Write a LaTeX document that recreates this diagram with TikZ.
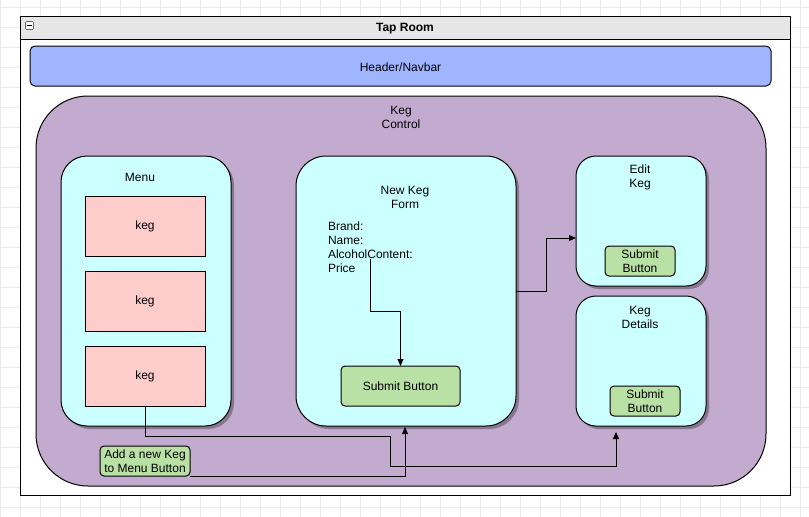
\documentclass[tikz,border=0pt]{standalone}
\usepackage{fontspec}
\setmainfont{Liberation Sans}
\usetikzlibrary{arrows.meta}
\definecolor{hdrblue}{HTML}{A0B5FF}
\definecolor{kegpurple}{HTML}{C3AACF}
\definecolor{lcyan}{HTML}{CCFFFF}
\definecolor{lpink}{HTML}{FFCCCC}
\definecolor{lgreen}{HTML}{B9E0A5}
\definecolor{lanegray}{HTML}{E6E6E6}
\definecolor{gridc}{HTML}{EBEBEB}
\tikzset{
  every node/.style={font=\fontsize{12}{14}\selectfont, inner sep=0pt, outer sep=0pt},
  boxbase/.style={draw=black, line width=1pt, anchor=north west},
  panel/.style={boxbase, fill=lcyan},
  kegbox/.style={boxbase, fill=lpink, minimum width=120pt, minimum height=60pt},
  btn/.style={boxbase, fill=lgreen, rounded corners=4pt, align=center},
  shadowbox/.style={fill=black, opacity=0.3},
  conn/.style={draw=black, line width=1pt},
  arr/.style={conn, -{Triangle[length=7pt,width=6pt]}},
  lbl/.style={align=center}
}
\begin{document}
\begin{tikzpicture}[x=1pt,y=-1pt]
\useasboundingbox (0,0) rectangle (809,517);
\fill[white] (0,0) rectangle (809,517);
% grid
\foreach \gx in {0,20,...,800} \draw[gridc, line width=0.8pt] (\gx,0) -- (\gx,517);
\foreach \gy in {7,27,...,517} \draw[gridc, line width=0.8pt] (0,\gy) -- (809,\gy);

% outer swimlane
\node[boxbase, fill=white, minimum width=770pt, minimum height=479pt] (lane) at (20,16) {};
\node[boxbase, fill=lanegray, minimum width=770pt, minimum height=23pt] (lanehead) at (20,16) {};
\node[font=\bfseries\fontsize{12}{14}\selectfont] (title) at (405,29) {Tap Room};
\node[draw=gray!80!black, fill=white, rounded corners=1pt, line width=0.6pt, minimum width=8pt, minimum height=8pt] (minus) at (29.5,25.5) {};
\draw[line width=1pt] (27,25.5) -- (32,25.5);

% header/navbar
\node[boxbase, fill=hdrblue, rounded corners=5pt, minimum width=741pt, minimum height=40pt] (navbar) at (30,46) {};
\node (navtext) at (400.5,67) {Header/Navbar};

% keg control
\node[boxbase, fill=kegpurple, rounded corners=52pt, minimum width=730pt, minimum height=390pt] (control) at (36,96) {};
\node[lbl] (controltext) at (401,117) {Keg\\Control};

% menu panel
\fill[shadowbox, rounded corners=26pt] (64,159) rectangle (234,429);
\node[panel, rounded corners=26pt, minimum width=170pt, minimum height=270pt] (menu) at (61,156) {};
\node (menutext) at (140,177) {Menu};
\node[kegbox] (keg1) at (85,196) {};
\node (keg1t) at (145,226.5) {keg};
\node[kegbox] (keg2) at (85,271) {};
\node (keg2t) at (145,301.5) {keg};
\node[kegbox] (keg3) at (85,346) {};
\node (keg3t) at (145,376.5) {keg};

% new keg form
\fill[shadowbox, rounded corners=30pt] (299,159) rectangle (519,429);
\node[panel, rounded corners=30pt, minimum width=220pt, minimum height=270pt] (form) at (296,156) {};
\node[lbl] (formtext) at (405,197) {New Keg\\Form};
\node[anchor=north west, align=left] (fields) at (328,221.5) {Brand:\\Name:\\AlcoholContent:\\Price};
\node[btn, minimum width=119pt, minimum height=40pt] (submit) at (341,366) {};
\node (submitt) at (400.5,386.5) {Submit Button};

% edit keg
\fill[shadowbox, rounded corners=20pt] (579,159) rectangle (709,289);
\node[panel, rounded corners=20pt, minimum width=130pt, minimum height=130pt] (edit) at (576,156) {};
\node[lbl] (edittext) at (640,177) {Edit\\Keg};
\node[btn, minimum width=70pt, minimum height=30pt] (editbtn) at (605,246) {};
\node[lbl] (editbtnt) at (640,261.5) {Submit\\Button};

% keg details
\fill[shadowbox, rounded corners=20pt] (579,299) rectangle (709,429);
\node[panel, rounded corners=20pt, minimum width=130pt, minimum height=130pt] (details) at (576,296) {};
\node[lbl] (detailstext) at (640,317) {Keg\\Details};
\node[btn, minimum width=70pt, minimum height=30pt] (detbtn) at (610,386) {};
\node[lbl] (detbtnt) at (645,401.5) {Submit\\Button};

% add button
\node[btn, minimum width=90pt, minimum height=30pt] (addbtn) at (100,446) {};
\node[lbl] (addbtnt) at (145,461.5) {Add a new Keg\\to Menu Button};

% connectors
\coordinate (alcpt) at (370,259);
\draw[arr] (alcpt) -- (370,311) -- (400.5,311) -- (submit.north);
\coordinate (editin) at (576,238);
\draw[arr] (form.east) -- (546,291) -- (546,238) -- (editin);
\coordinate (detin) at (616,432);
\draw[arr] (keg3.south) -- (145,436) -- (390,436) -- (390,466) -- (616,466) -- (detin);
\coordinate (formin) at (405,427);
\draw[arr] (addbtn.south east) -- (405,476) -- (formin);
\end{tikzpicture}
\end{document}
